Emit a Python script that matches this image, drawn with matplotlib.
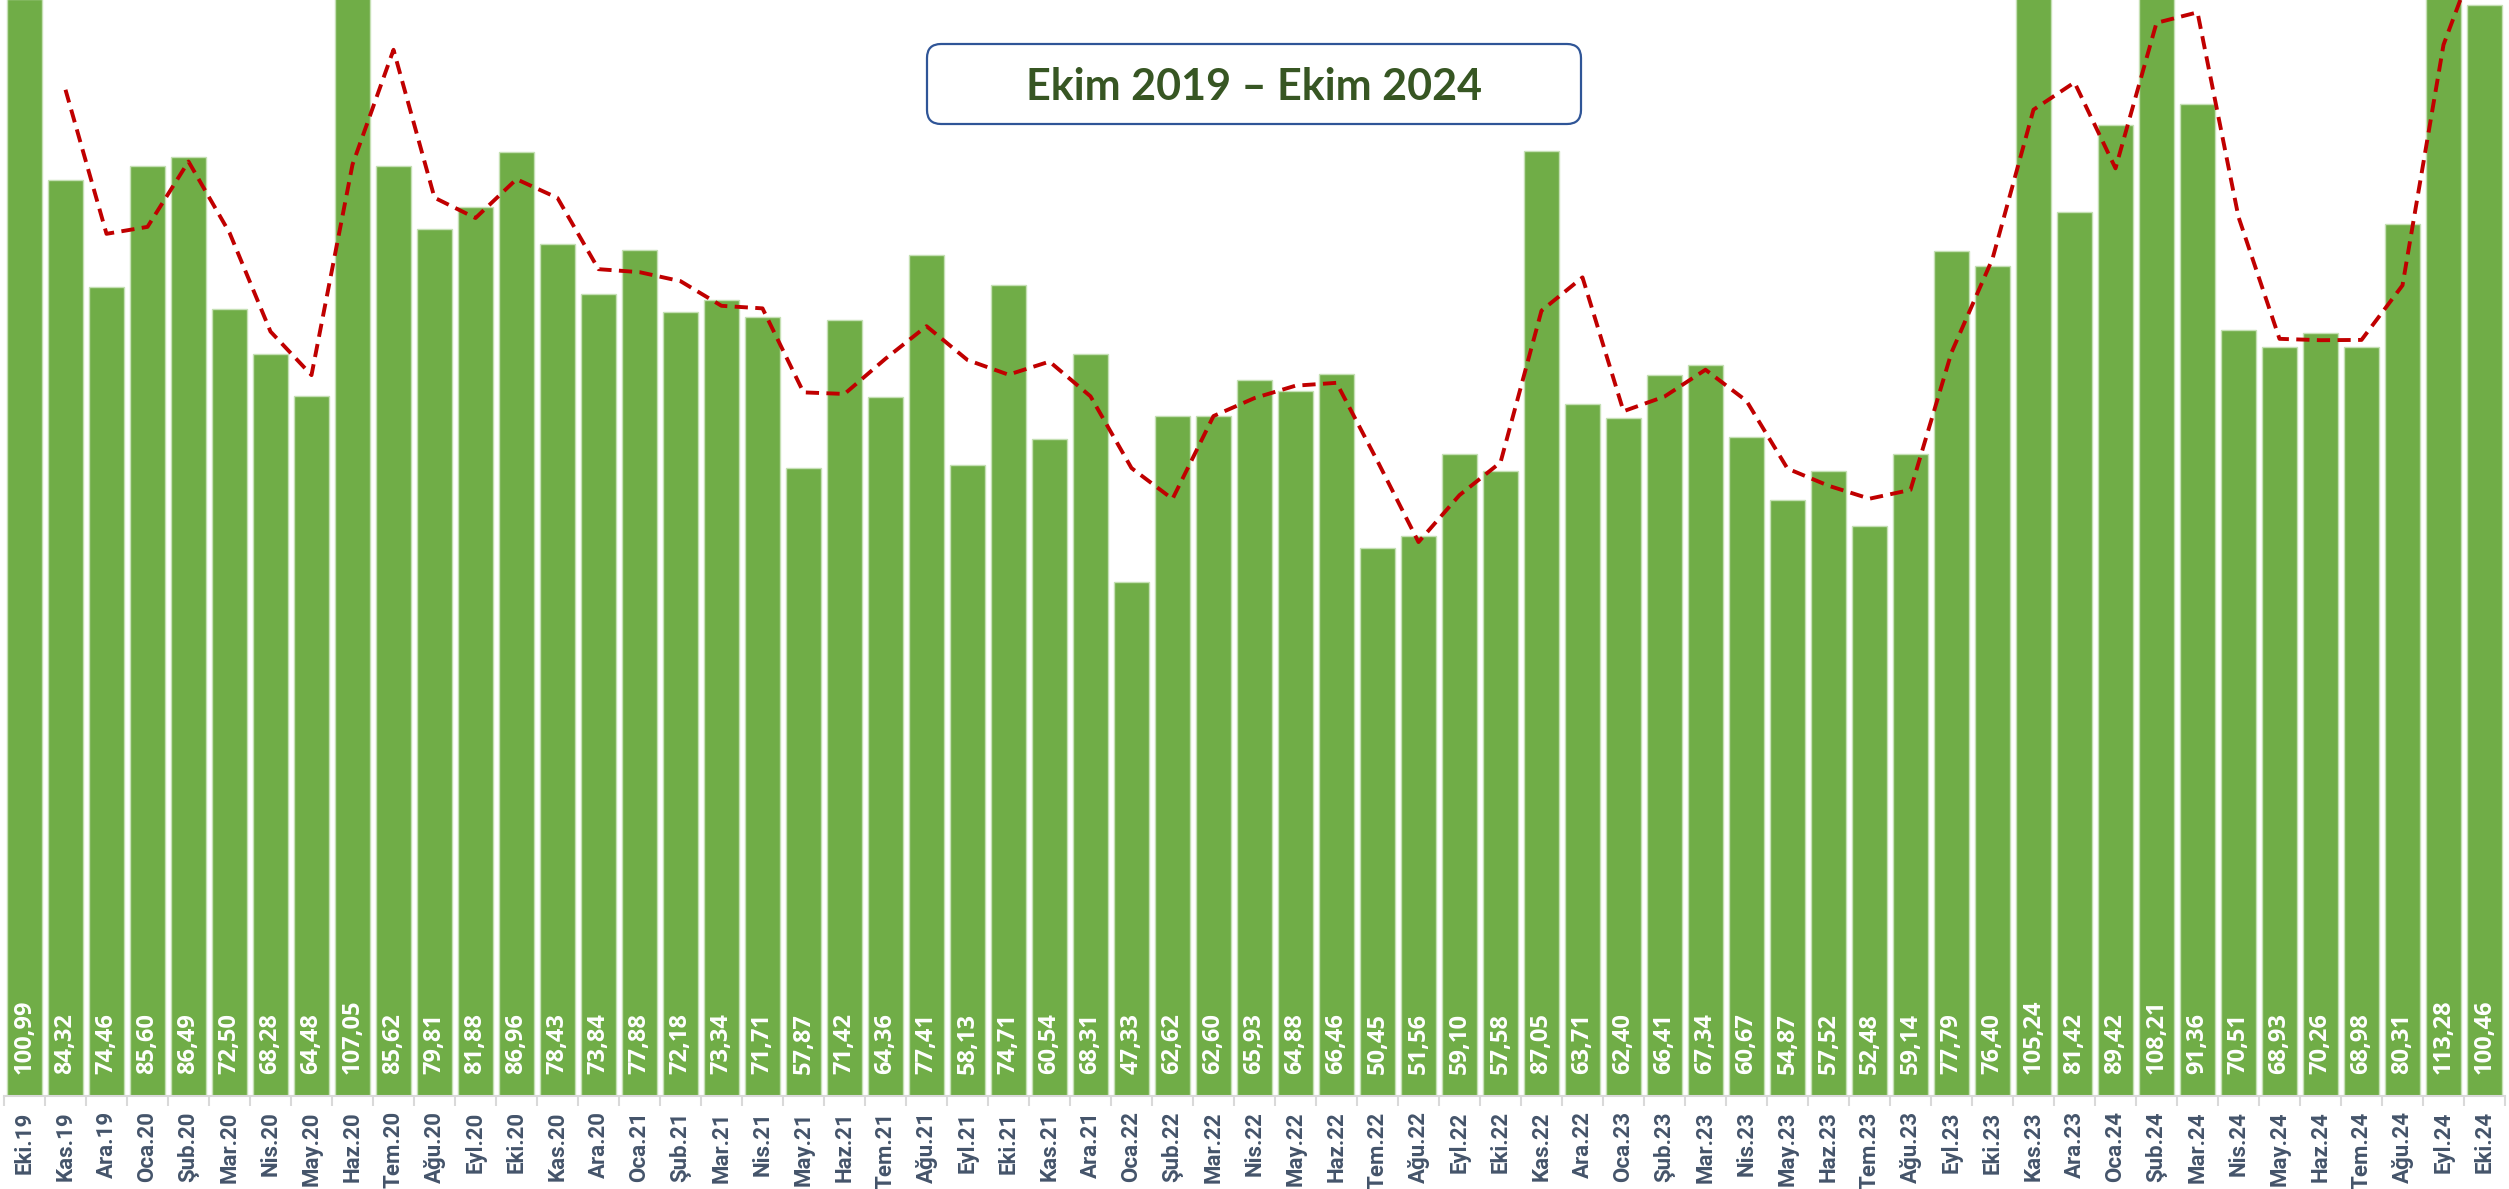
import matplotlib
matplotlib.use("Agg")
import matplotlib.pyplot as plt
import numpy as np
import pandas as pd
from matplotlib.patches import FancyBboxPatch


months = [
    "Eki.19", "Kas.19", "Ara.19",
    "Oca.20", "Şub.20", "Mar.20", "Nis.20", "May.20", "Haz.20",
    "Tem.20", "Ağu.20", "Eyl.20", "Eki.20", "Kas.20", "Ara.20",
    "Oca.21", "Şub.21", "Mar.21", "Nis.21", "May.21", "Haz.21",
    "Tem.21", "Ağu.21", "Eyl.21", "Eki.21", "Kas.21", "Ara.21",
    "Oca.22", "Şub.22", "Mar.22", "Nis.22", "May.22", "Haz.22",
    "Tem.22", "Ağu.22", "Eyl.22", "Eki.22", "Kas.22", "Ara.22",
    "Oca.23", "Şub.23", "Mar.23", "Nis.23", "May.23", "Haz.23",
    "Tem.23", "Ağu.23", "Eyl.23", "Eki.23", "Kas.23", "Ara.23",
    "Oca.24", "Şub.24", "Mar.24", "Nis.24", "May.24", "Haz.24",
    "Tem.24", "Ağu.24", "Eyl.24", "Eki.24",
]

values = [
    100.99, 84.32, 74.46,
    85.60, 86.49, 72.50, 68.28, 64.48, 107.05,
    85.62, 79.81, 81.88, 86.96, 78.43, 73.84,
    77.88, 72.18, 73.34, 71.71, 57.87, 71.42,
    64.36, 77.41, 58.13, 74.71, 60.54, 68.31,
    47.33, 62.62, 62.60, 65.93, 64.88, 66.46,
    50.45, 51.56, 59.10, 57.58, 87.05, 63.71,
    62.40, 66.41, 67.34, 60.67, 54.87, 57.52,
    52.48, 59.14, 77.79, 76.40, 105.24, 81.42,
    89.42, 108.21, 91.36, 70.51, 68.93, 70.26,
    68.98, 80.31, 113.28, 100.46,
]

title = "Ekim 2019 – Ekim 2024"

# 2-period moving average trendline (Excel style)
trend = pd.Series(values).rolling(2).mean()

W, H = 2509, 1189
fig = plt.figure(figsize=(W / 100, H / 100), dpi=100)
fig.patch.set_facecolor("white")
ax = fig.add_axes([4 / W, 93 / H, 2501 / W, 1096 / H])

x = np.arange(len(values))
ax.bar(x, values, width=0.85, color="#70AD47", edgecolor="#C5E0B4",
       linewidth=1.0, zorder=2)
ax.plot(x, trend, color="#C00000", linewidth=2.8, dashes=(3.4, 1.9),
        zorder=3, dash_capstyle="butt")

for xi, v in zip(x, values):
    ax.text(xi, 2.0, f"{v:.2f}".replace(".", ","), rotation=90,
            ha="center", va="bottom", color="white", fontsize=17,
            fontweight="bold", family="Open Sans", zorder=4)

ax.set_xlim(-0.5, len(values) - 0.5)
ax.set_ylim(0, 100.92)
ax.set_yticks([0, 20, 40, 60, 80, 100])
ax.yaxis.set_visible(False)
ax.grid(axis="y", color="#DDE2EC", linewidth=1.5, zorder=0)
ax.set_axisbelow(True)

for side in ("top", "right", "left"):
    ax.spines[side].set_visible(False)
ax.spines["bottom"].set_color("#D9D9D9")
ax.spines["bottom"].set_linewidth(1.5)

ax.set_xticks(x)
ax.set_xticklabels(months, rotation=90, fontsize=16, fontweight="bold",
                   color="#44546A", family="Roboto")
ax.tick_params(axis="x", which="major", length=0, pad=11)
ax.set_xticks(np.arange(-0.5, len(values)), minor=True)
ax.tick_params(axis="x", which="minor", length=7, width=1.5, color="#D9D9D9")

# title box, placed in inches (100 px per inch)
box = FancyBboxPatch((9.27, (H - 124) / 100), 6.54, 0.80,
                     boxstyle="round,pad=0,rounding_size=0.14",
                     transform=fig.dpi_scale_trans, facecolor="white",
                     edgecolor="#2F5597", linewidth=1.6, zorder=10)
fig.patches.append(box)
fig.text(12.54, (H - 100) / 100, title, transform=fig.dpi_scale_trans,
         ha="center", va="baseline", fontsize=31, fontweight="bold",
         color="#375623", family="Lato", zorder=11)

fig.savefig("out.png", dpi=100, facecolor="white")
